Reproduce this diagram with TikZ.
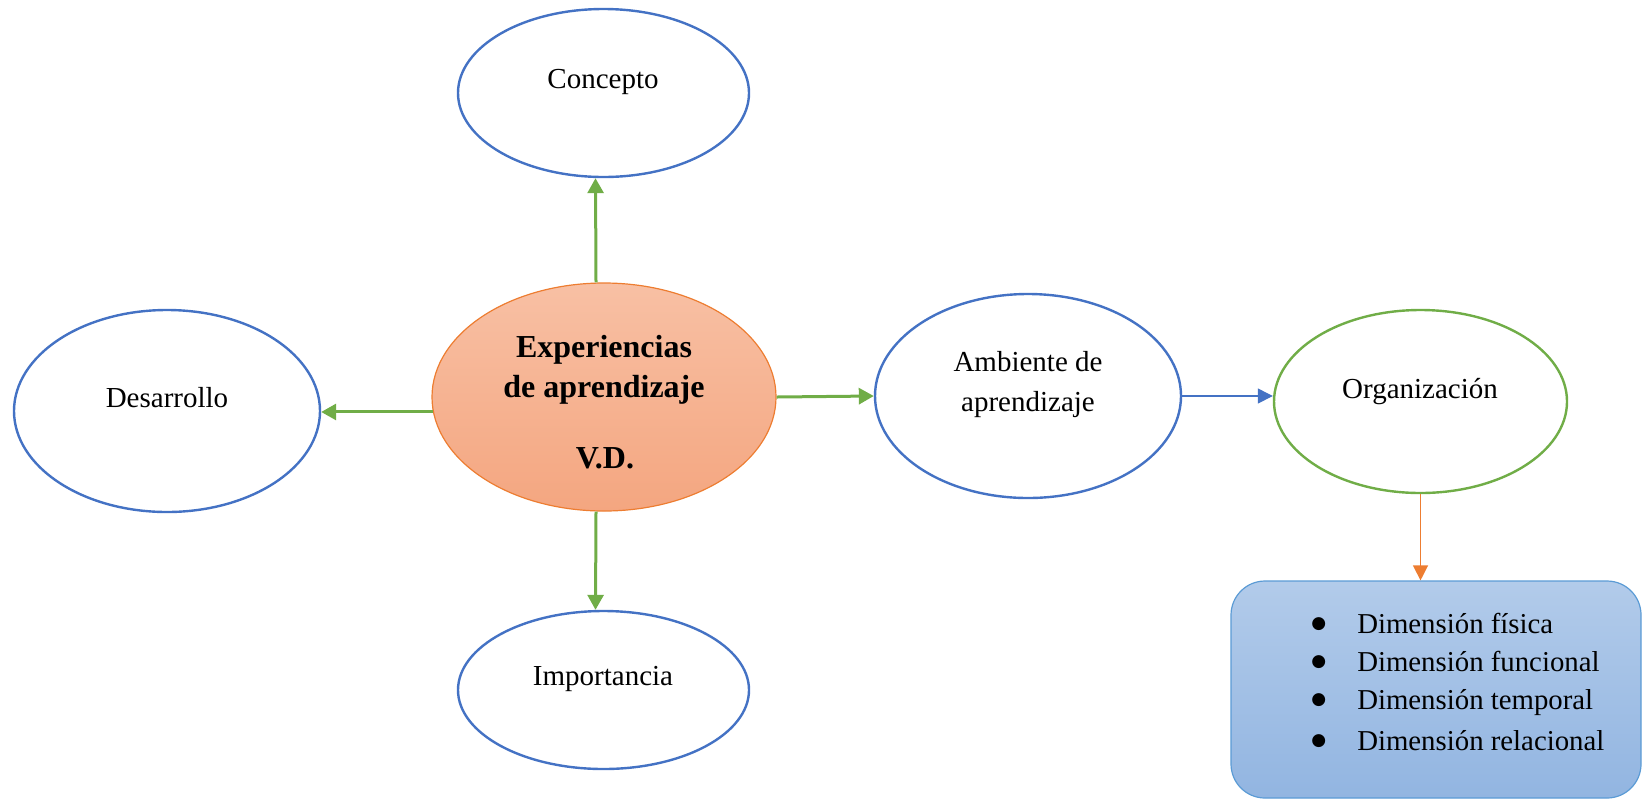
\documentclass[tikz,border=0pt]{standalone}
\usepackage{fontspec}
\setmainfont{Liberation Serif}
\newfontfamily\symfont{DejaVu Sans}
\usetikzlibrary{shapes.geometric,arrows.meta}
\definecolor{cblue}{HTML}{4472C4}
\definecolor{cgreen}{HTML}{70AD47}
\definecolor{corange}{HTML}{ED7D31}
\definecolor{ctop}{HTML}{F8C0A4}
\definecolor{cbot}{HTML}{F4A680}
\definecolor{btop}{HTML}{B2CBEA}
\definecolor{bbot}{HTML}{92B5E1}
\definecolor{bborder}{HTML}{5B9BD5}
\newcommand{\bigbul}{\raisebox{2.2pt}{\symfont\fontsize{8.5}{8.5}\selectfont ●}}
\begin{document}
\begin{tikzpicture}[x=0.5pt,y=-0.5pt,
  bub/.style={ellipse, draw=cblue, line width=1.2pt, inner sep=0pt, fill=white},
  lbl/.style={anchor=base, inner sep=0pt, font=\fontsize{14.5}{16}\selectfont},
  blbl/.style={anchor=base, inner sep=0pt, font=\fontsize{16}{18}\selectfont\bfseries},
  garrow/.style={draw=cgreen, line width=1.5pt, -{Triangle[length=7.5pt,width=8pt]}},
  tarrow/.style={line width=0.6pt, -{Triangle[length=7.5pt,width=7.5pt]}}
]
\useasboundingbox (0,0) rectangle (1642,799);
% ellipses
\node[bub, minimum width=145.5pt, minimum height=84pt] (concepto) at (603.5,93) {};
\node[bub, minimum width=153pt, minimum height=101pt] (desarrollo) at (167,411) {};
\node[bub, minimum width=145.5pt, minimum height=79pt] (importancia) at (603.5,690) {};
\node[bub, minimum width=153pt, minimum height=102pt] (ambiente) at (1028,396) {};
\node[bub, draw=cgreen, minimum width=146.5pt, minimum height=91.5pt] (org) at (1420.5,401.5) {};
\node[ellipse, draw=corange, line width=0.6pt, top color=ctop, bottom color=cbot,
      inner sep=0pt, minimum width=172pt, minimum height=114pt] (ctr) at (604,397) {};
% box
\node[rectangle, rounded corners=17pt, draw=bborder, line width=0.6pt,
      top color=btop, bottom color=bbot, minimum width=205pt, minimum height=108.5pt,
      inner sep=0pt] (box) at (1436,689.5) {};
% labels
\node[lbl] (tconcepto) at (603,88) {Concepto};
\node[lbl] (tdesarrollo) at (167,407) {Desarrollo};
\node[lbl] (timportancia) at (603,685) {Importancia};
\node[lbl] (tamb1) at (1028,371) {Ambiente de};
\node[lbl] (tamb2) at (1028,411) {aprendizaje};
\node[lbl] (torg) at (1420,398) {Organización};
\node[blbl] (tc1) at (604,357) {Experiencias};
\node[blbl] (tc2) at (604,397) {de aprendizaje};
\node[blbl] (tc3) at (605,468) {V.D.};
\node[anchor=base west, inner sep=0pt, font=\fontsize{14.4}{19}\selectfont] (list) at (1311,633)
  {\begin{tabular}[t]{@{}c@{\hspace{15.5pt}}l@{}}
   \bigbul & Dimensión física\\
   \bigbul & Dimensión funcional\\
   \bigbul & Dimensión temporal\\[1.5pt]
   \bigbul & Dimensión relacional
   \end{tabular}};
% connectors
\draw[garrow] ([xshift=-4pt]ctr.north) -- ([xshift=-4pt]concepto.south);
\draw[garrow] ([xshift=-4pt]ctr.south) -- ([xshift=-4pt]importancia.north);
\draw[garrow] (ctr.185) -- (ctr.185 -| desarrollo.east);
\draw[garrow] (ctr.east) -- (ambiente.west);
\draw[tarrow, draw=cblue, fill=cblue] (ambiente.east) -- (ambiente.east -| org.west);
\draw[tarrow, draw=corange, fill=corange] (org.south) -- (org.south |- box.north);
\end{tikzpicture}
\end{document}
